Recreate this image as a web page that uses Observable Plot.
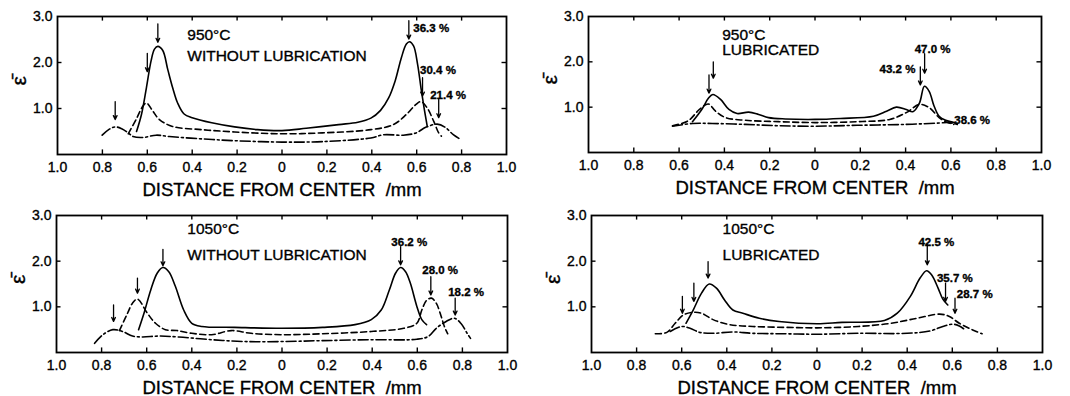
<!DOCTYPE html>
<html>
<head>
<meta charset="utf-8">
<script src="https://cdn.jsdelivr.net/npm/d3@7"></script>
<script src="https://cdn.jsdelivr.net/npm/@observablehq/plot@0.6"></script>
<style>
  html, body { margin: 0; padding: 0; background: #fff; }
  #wrap { position: relative; width: 1070px; height: 396px; background: #fff; overflow: hidden; }
  #wrap > div { position: absolute; }
  svg { display: block; }
  #wrap svg text { stroke: #000; stroke-width: 0.35px; }
</style>
</head>
<body>
<div id="wrap">
  <div id="p1"></div><div id="p2"></div><div id="p3"></div><div id="p4"></div>
</div>
<script>
// ---------- tick labels ----------
const xTicks = [-1, -0.8, -0.6, -0.4, -0.2, 0, 0.2, 0.4, 0.6, 0.8, 1];
const yTicks = [1, 2, 3];
const xAxisTitle = "DISTANCE FROM CENTER\u00a0 /mm";
const yAxisTitle = "\u03b5\u0304";

// ---------- panel titles ----------
const titles = [
  ["950°C", "WITHOUT LUBRICATION"],
  ["950°C", "LUBRICATED"],
  ["1050°C", "WITHOUT LUBRICATION"],
  ["1050°C", "LUBRICATED"]
];

// ---------- series: [distance, strain] ----------
// 950°C without lubrication
const p1Solid = [[-0.648,0.50],[-0.626,0.87],[-0.604,1.45],[-0.583,2.04],[-0.568,2.29],[-0.553,2.35],[-0.531,2.26],[-0.509,1.85],[-0.487,1.45],[-0.465,1.12],[-0.436,0.88],[-0.40,0.80],[-0.313,0.69],[-0.211,0.60],[-0.109,0.54],[0,0.52],[0.108,0.57],[0.252,0.65],[0.338,0.70],[0.396,0.79],[0.439,0.96],[0.475,1.23],[0.504,1.60],[0.532,2.11],[0.554,2.40],[0.568,2.45],[0.586,2.36],[0.604,1.96],[0.619,1.45],[0.633,1.01],[0.647,0.61]];
const p1Dashed = [[-0.685,0.45],[-0.648,0.78],[-0.62,1.05],[-0.604,1.12],[-0.575,0.94],[-0.546,0.76],[-0.488,0.61],[-0.357,0.54],[-0.211,0.49],[0,0.45],[0.18,0.47],[0.396,0.54],[0.496,0.65],[0.554,0.87],[0.597,1.09],[0.619,1.15],[0.647,1.01],[0.676,0.72],[0.698,0.47],[0.71,0.40]];
const p1DashDot = [[-0.801,0.42],[-0.772,0.54],[-0.743,0.60],[-0.714,0.56],[-0.685,0.47],[-0.663,0.39],[-0.619,0.37],[-0.561,0.42],[-0.502,0.39],[-0.357,0.34],[-0.211,0.30],[0,0.27],[0.18,0.28],[0.396,0.36],[0.453,0.43],[0.54,0.42],[0.597,0.47],[0.64,0.59],[0.691,0.66],[0.727,0.59],[0.763,0.43],[0.791,0.34]];
// 950°C lubricated
const p2Solid = [[-0.541,0.68],[-0.50,0.95],[-0.47,1.20],[-0.451,1.28],[-0.417,1.17],[-0.38,0.95],[-0.344,0.86],[-0.293,0.89],[-0.249,0.84],[-0.205,0.77],[-0.131,0.74],[0,0.73],[0.113,0.75],[0.258,0.80],[0.316,0.91],[0.359,1.0],[0.403,0.95],[0.432,0.90],[0.461,1.09],[0.483,1.46],[0.504,1.35],[0.526,1.02],[0.548,0.80],[0.577,0.71],[0.613,0.66],[0.628,0.62]];
const p2Dashed = [[-0.629,0.59],[-0.56,0.70],[-0.51,0.95],[-0.471,1.07],[-0.439,0.91],[-0.395,0.77],[-0.307,0.71],[-0.161,0.68],[0,0.66],[0.186,0.68],[0.33,0.73],[0.403,0.88],[0.461,1.06],[0.504,0.99],[0.548,0.77],[0.577,0.68],[0.613,0.62]];
const p2DashDot = [[-0.629,0.58],[-0.541,0.64],[-0.454,0.64],[-0.307,0.62],[-0.161,0.59],[0,0.58],[0.186,0.60],[0.403,0.62],[0.548,0.65],[0.591,0.66],[0.628,0.62]];
// 1050°C without lubrication
const p3Solid = [[-0.636,0.50],[-0.612,0.86],[-0.582,1.37],[-0.553,1.74],[-0.528,1.86],[-0.502,1.77],[-0.473,1.45],[-0.436,0.93],[-0.40,0.64],[-0.356,0.57],[-0.21,0.55],[0,0.53],[0.18,0.55],[0.324,0.61],[0.396,0.72],[0.44,0.93],[0.476,1.37],[0.504,1.74],[0.526,1.86],[0.548,1.77],[0.569,1.52],[0.598,1.01],[0.62,0.72],[0.641,0.61]];
const p3Dashed = [[-0.721,0.48],[-0.685,0.86],[-0.663,1.08],[-0.641,1.17],[-0.597,0.86],[-0.561,0.64],[-0.517,0.50],[-0.466,0.48],[-0.40,0.42],[-0.312,0.39],[-0.225,0.48],[-0.137,0.42],[0,0.39],[0.18,0.41],[0.396,0.46],[0.54,0.53],[0.598,0.64],[0.62,0.93],[0.641,1.14],[0.663,1.19],[0.684,1.08],[0.706,0.79],[0.72,0.57],[0.735,0.41]];
const p3DashDot = [[-0.831,0.20],[-0.794,0.39],[-0.75,0.50],[-0.707,0.46],[-0.663,0.36],[-0.619,0.34],[-0.546,0.36],[-0.458,0.34],[-0.312,0.28],[-0.166,0.24],[0,0.24],[0.18,0.26],[0.396,0.28],[0.598,0.29],[0.648,0.35],[0.684,0.53],[0.728,0.68],[0.764,0.75],[0.793,0.64],[0.821,0.42],[0.836,0.31]];
// 1050°C lubricated
const p4Solid = [[-0.581,0.64],[-0.549,0.93],[-0.512,1.30],[-0.478,1.50],[-0.446,1.41],[-0.41,1.15],[-0.373,0.93],[-0.329,0.86],[-0.256,0.75],[-0.168,0.68],[0,0.63],[0.111,0.66],[0.299,0.70],[0.356,0.86],[0.414,1.23],[0.457,1.63],[0.486,1.79],[0.508,1.70],[0.537,1.41],[0.558,1.17],[0.58,1.04]];
const p4Dashed = [[-0.717,0.41],[-0.666,0.44],[-0.629,0.64],[-0.593,0.82],[-0.549,0.88],[-0.512,0.86],[-0.461,0.72],[-0.388,0.61],[-0.285,0.57],[-0.139,0.55],[0,0.54],[0.183,0.57],[0.328,0.64],[0.443,0.75],[0.544,0.84],[0.587,0.79],[0.631,0.64],[0.688,0.50],[0.732,0.41]];
const p4DashDot = [[-0.651,0.46],[-0.6,0.57],[-0.563,0.53],[-0.519,0.44],[-0.461,0.42],[-0.373,0.45],[-0.285,0.42],[-0.139,0.41],[0,0.40],[0.183,0.42],[0.4,0.42],[0.5,0.47],[0.558,0.57],[0.602,0.62],[0.631,0.58],[0.65,0.52]];

// ---------- peak annotations: arrow at x from y1 down to y2; label at (lx, ly) ----------
const p1Notes = [
  {x:-0.553, y1:2.84, y2:2.44},
  {x:-0.600, y1:2.20, y2:1.80},
  {x:-0.743, y1:1.15, y2:0.76},
  {x:0.565, y1:2.91, y2:2.51, label:"36.3 %", lx:0.585, ly:2.75},
  {x:0.626, y1:1.67, y2:1.27, label:"30.4 %", lx:0.615, ly:1.82},
  {x:0.698, y1:1.20, y2:0.80, label:"21.4 %", lx:0.66, ly:1.29}
];
const p2Notes = [
  {x:-0.468, y1:1.71, y2:1.31},
  {x:-0.449, y1:2.00, y2:1.64},
  {x:0.465, y1:1.89, y2:1.49, label:"43.2 %", lx:0.285, ly:1.84},
  {x:0.484, y1:2.18, y2:1.75, label:"47.0 %", lx:0.44, ly:2.28},
  {label:"38.6 %", lx:0.615, ly:0.71}
];
const p3Notes = [
  {x:-0.528, y1:2.26, y2:1.90},
  {x:-0.641, y1:1.63, y2:1.30},
  {x:-0.747, y1:1.04, y2:0.68},
  {x:0.526, y1:2.32, y2:1.92, label:"36.2 %", lx:0.485, ly:2.41},
  {x:0.660, y1:1.66, y2:1.26, label:"28.0 %", lx:0.622, ly:1.80},
  {x:0.768, y1:1.19, y2:0.82, label:"18.2 %", lx:0.737, ly:1.31}
];
const p4Notes = [
  {x:-0.597, y1:1.23, y2:0.86},
  {x:-0.546, y1:1.52, y2:1.12},
  {x:-0.483, y1:1.99, y2:1.63},
  {x:0.489, y1:2.36, y2:1.92, label:"42.5 %", lx:0.45, ly:2.41},
  {x:0.570, y1:1.52, y2:1.12, label:"35.7 %", lx:0.532, ly:1.63},
  {x:0.612, y1:1.19, y2:0.86, label:"28.7 %", lx:0.62, ly:1.28}
];

// ---------- layout ----------
const layout = [
  {id:"p1", left:0,   top:0,   mL:57, mR:29, mT:16, mB:44, titleX:-0.422, titleY:[2.48, 2.04], data:[p1Solid,p1Dashed,p1DashDot], notes:p1Notes},
  {id:"p2", left:535, top:0,   mL:53, mR:29, mT:16, mB:46, titleX:-0.41,  titleY:[2.49, 2.14], data:[p2Solid,p2Dashed,p2DashDot], notes:p2Notes},
  {id:"p3", left:0,   top:198, mL:56, mR:28, mT:17, mB:44, titleX:-0.42,  titleY:[2.60, 2.03], data:[p3Solid,p3Dashed,p3DashDot], notes:p3Notes},
  {id:"p4", left:535, top:198, mL:56, mR:28, mT:17, mB:44, titleX:-0.419, titleY:[2.60, 2.03], data:[p4Solid,p4Dashed,p4DashDot], notes:p4Notes}
];

const FONT = "'Liberation Sans', Arial, Helvetica, sans-serif";
const dashes = [null, "6,3.5", "10,3,2,3"];
const fmtX = d => d === 0 ? "0" : Math.abs(d).toFixed(1);

layout.forEach((L, i) => {
  const titleRows = titles[i].map((t, k) => ({t, y: L.titleY[k]}));
  const arrows = L.notes.filter(d => d.x !== undefined);
  const labels = L.notes.filter(d => d.label);
  const marks = [
    Plot.frame({stroke: "#000", strokeWidth: 1.8}),
    Plot.axisX({ticks: xTicks, tickSize: 0, tickPadding: 8, tickFormat: fmtX, fontSize: 14, label: null}),
    Plot.axisY({ticks: yTicks, tickSize: 0, tickPadding: 5, tickFormat: d => d.toFixed(1), fontSize: 14, label: null}),
    // inward ticks on all four sides
    Plot.ruleX(xTicks.slice(1, -1), {x: d => d, y1: 0, y2: 0.1, stroke: "#000", strokeWidth: 1.4}),
    Plot.ruleX(xTicks.slice(1, -1), {x: d => d, y1: 3, y2: 2.9, stroke: "#000", strokeWidth: 1.4}),
    Plot.ruleY(yTicks.slice(0, -1), {y: d => d, x1: -1, x2: -0.98, stroke: "#000", strokeWidth: 1.4}),
    Plot.ruleY(yTicks.slice(0, -1), {y: d => d, x1: 1, x2: 0.98, stroke: "#000", strokeWidth: 1.4}),
    ...L.data.map((s, k) => Plot.line(s, {x: d => d[0], y: d => d[1], curve: "catmull-rom", stroke: "#000", strokeWidth: 1.6, strokeDasharray: dashes[k]})),
    Plot.arrow(arrows, {x1: "x", x2: "x", y1: "y1", y2: "y2", stroke: "#000", strokeWidth: 1.3, headLength: 5, headAngle: 50}),
    Plot.text(labels, {x: "lx", y: "ly", text: "label", textAnchor: "start", fontSize: 11.5, fontWeight: "bold", fill: "#000"}),
    Plot.text(titleRows, {x: () => L.titleX, y: "y", text: "t", textAnchor: "start", lineAnchor: "bottom", fontSize: 15.5, fill: "#000"}),
    Plot.text([xAxisTitle], {text: d => d, frameAnchor: "bottom", dy: 41, lineAnchor: "bottom", fontSize: 18.5, fill: "#000", letterSpacing: "0.6px"}),
    Plot.text([yAxisTitle], {text: d => d, frameAnchor: "left", dx: -38, rotate: -90, fontSize: 21, fill: "#000"})
  ];
  const svg = Plot.plot({
    width: 535, height: 198,
    marginLeft: L.mL, marginRight: L.mR, marginTop: L.mT, marginBottom: L.mB,
    x: {domain: [-1, 1], label: null},
    y: {domain: [0, 3], label: null},
    style: {fontFamily: FONT, background: "#fff", color: "#000", overflow: "visible"},
    marks
  });
  const host = document.getElementById(L.id);
  host.style.left = L.left + "px";
  host.style.top = L.top + "px";
  host.appendChild(svg);
});
</script>
</body>
</html>
